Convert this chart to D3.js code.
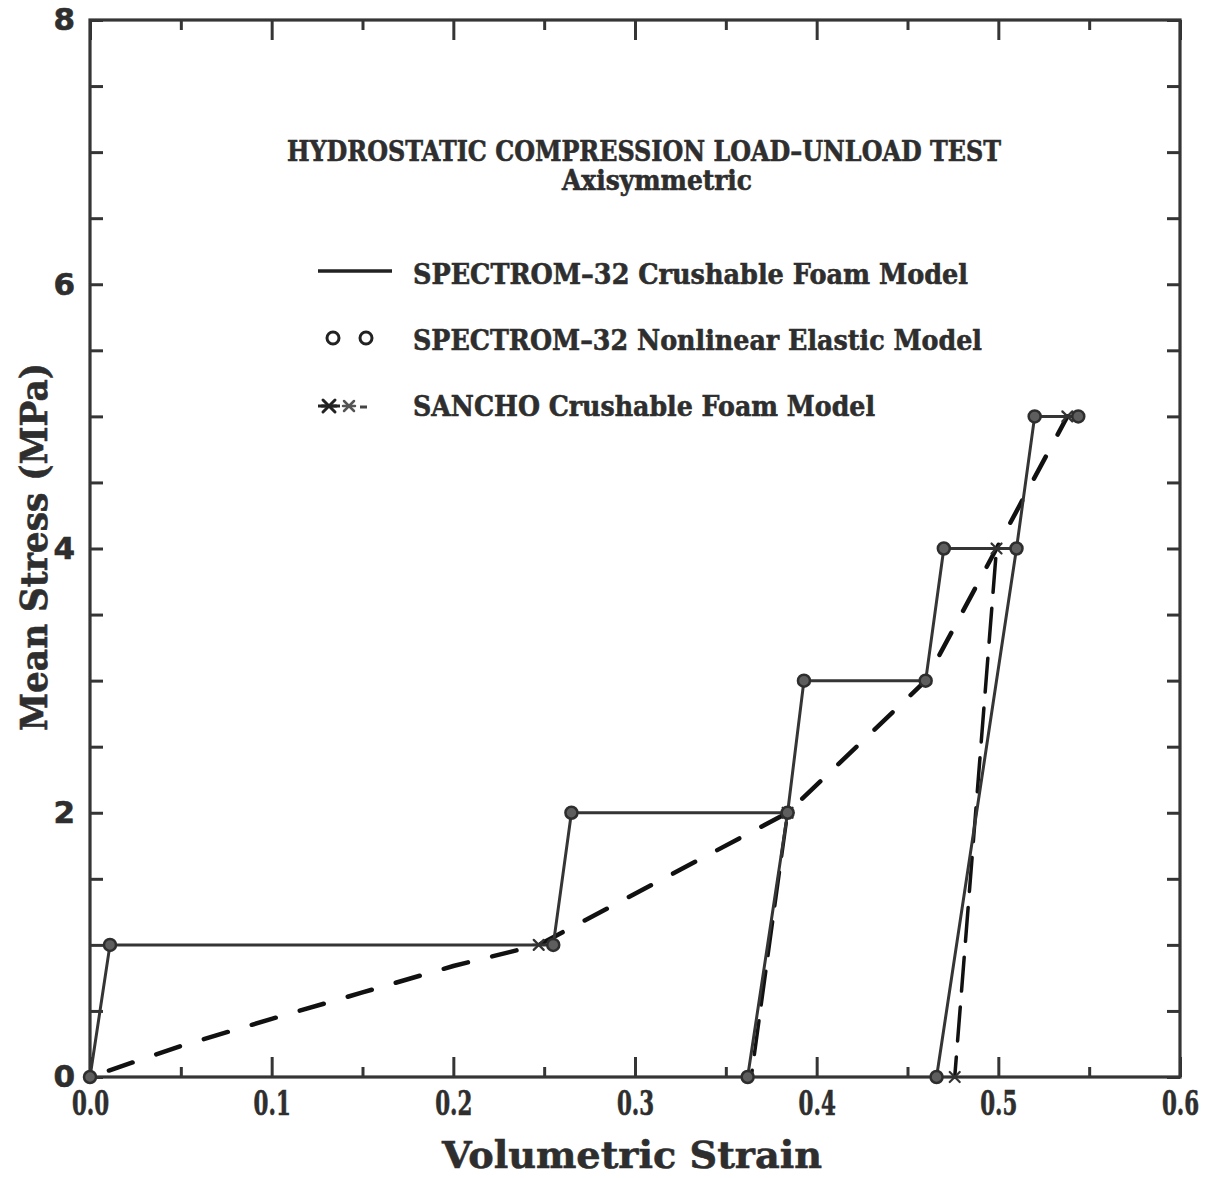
<!DOCTYPE html>
<html>
<head>
<meta charset="utf-8">
<script src="https://cdn.jsdelivr.net/npm/d3@7/dist/d3.min.js"></script>
<style>
  html, body { margin: 0; padding: 0; background: #fff; }
  svg { display: block; }
  text { font-family: "DejaVu Serif", "Liberation Serif", serif; font-weight: bold; fill: #2e2e2e;
         stroke: #2e2e2e; stroke-width: 0.6px; }
</style>
</head>
<body>
<svg id="chart" width="1210" height="1178"></svg>
<script>
// Axis ticks and labels
const strainMajor = [0, 0.1, 0.2, 0.3, 0.4, 0.5, 0.6];
const strainMajorLabels = ["0.0", "0.1", "0.2", "0.3", "0.4", "0.5", "0.6"];
const strainMinor = [0.05, 0.15, 0.25, 0.35, 0.45, 0.55];
const stressTicks = [0, 0.5, 1, 1.5, 2, 2.5, 3, 3.5, 4, 4.5, 5, 5.5, 6, 6.5, 7, 7.5, 8];
const stressLabels = [0, 2, 4, 6, 8];

// SPECTROM-32 crushable foam model: load / unload / reload path
const foamStrain = [0, 0.011, 0.255, 0.265, 0.384, 0.362, 0.384, 0.393, 0.460, 0.470, 0.510, 0.466, 0.510, 0.520, 0.544];
const foamStress = [0, 1, 1, 2, 2, 0, 2, 3, 3, 4, 4, 0, 4, 5, 5];

// SPECTROM-32 nonlinear elastic model: computed points
const elasticStrain = [0, 0.011, 0.255, 0.265, 0.384, 0.362, 0.393, 0.460, 0.470, 0.510, 0.466, 0.520, 0.544];
const elasticStress = [0, 1, 1, 2, 2, 0, 3, 3, 4, 4, 0, 5, 5];

// SANCHO crushable foam model: loading curve and the two unloading legs
const sanchoLoadStrain = [0, 0.05, 0.10, 0.15, 0.20, 0.247, 0.384, 0.460, 0.499, 0.538];
const sanchoLoadStress = [0, 0.235, 0.44, 0.64, 0.84, 1.0, 2.0, 3.0, 4.0, 5.0];
const sanchoUnloadStrain = [[0.384, 0.364], [0.499, 0.476]];
const sanchoUnloadStress = [[2.0, 0], [4.0, 0]];
const sanchoMarkStrain = [0.247, 0.384, 0.499, 0.538, 0.476];
const sanchoMarkStress = [1.0, 2.0, 4.0, 5.0, 0];

const svg = d3.select("#chart");
const ink = "#353535";

const x = d3.scaleLinear().domain([0, 0.6]).range([90, 1180]);
const y = d3.scaleLinear().domain([0, 8]).range([1077, 20]);

svg.append("rect").attr("width", 1210).attr("height", 1178).attr("fill", "#fff");

// Axes with inward ticks
function styleAxis(g) {
  g.select(".domain").remove();
  g.selectAll(".tick line").attr("stroke", ink).attr("stroke-width", 3);
}

svg.append("g").attr("transform", `translate(0,${y(0)})`)
  .call(d3.axisBottom(x).tickValues(strainMinor).tickSize(-10).tickFormat(""))
  .call(styleAxis);
const xb = svg.append("g").attr("transform", `translate(0,${y(0)})`)
  .call(d3.axisBottom(x).tickValues(strainMajor).tickSize(-20).tickPadding(15)
    .tickFormat((d, i) => strainMajorLabels[i]))
  .call(styleAxis);
// narrow, heavy strain labels
xb.selectAll(".tick text")
  .attr("font-size", 33).attr("transform", "scale(0.72,1)")
  .style("font-family", "'DejaVu Serif Condensed', 'DejaVu Serif', serif")
  .attr("fill", "#2e2e2e").attr("stroke", "#2e2e2e").attr("stroke-width", 1.1);

svg.append("g").attr("transform", `translate(0,${y(8)})`)
  .call(d3.axisTop(x).tickValues(strainMinor).tickSize(-10).tickFormat(""))
  .call(styleAxis);
svg.append("g").attr("transform", `translate(0,${y(8)})`)
  .call(d3.axisTop(x).tickValues(strainMajor).tickSize(-20).tickFormat(""))
  .call(styleAxis);

const yl = svg.append("g").attr("transform", `translate(${x(0)},0)`)
  .call(d3.axisLeft(y).tickValues(stressTicks).tickSize(-13).tickPadding(15)
    .tickFormat(d => stressLabels.includes(d) ? String(d) : ""))
  .call(styleAxis);
yl.selectAll(".tick text").attr("font-size", 31).attr("fill", "#2e2e2e")
  .attr("stroke", "#2e2e2e").attr("stroke-width", 0.8)
  .style("font-family", "'DejaVu Sans', sans-serif");

svg.append("g").attr("transform", `translate(${x(0.6)},0)`)
  .call(d3.axisRight(y).tickValues(stressTicks).tickSize(-13).tickFormat(""))
  .call(styleAxis);

// Plot frame
svg.append("rect")
  .attr("x", x(0)).attr("y", y(8))
  .attr("width", x(0.6) - x(0)).attr("height", y(0) - y(8))
  .attr("fill", "none").attr("stroke", ink).attr("stroke-width", 3.2);

// Axis titles
svg.append("text").attr("x", 632).attr("y", 1168).attr("text-anchor", "middle")
  .attr("font-size", 38).attr("textLength", 380).attr("lengthAdjust", "spacingAndGlyphs")
  .text("Volumetric Strain");
svg.append("text").attr("transform", "translate(47,547) rotate(-90)").attr("text-anchor", "middle")
  .attr("font-size", 38).attr("textLength", 368).attr("lengthAdjust", "spacingAndGlyphs")
  .text("Mean Stress (MPa)");

// Chart title
svg.append("text").attr("x", 644).attr("y", 161).attr("text-anchor", "middle")
  .attr("font-size", 27).attr("textLength", 714).attr("lengthAdjust", "spacingAndGlyphs")
  .text("HYDROSTATIC COMPRESSION LOAD\u2013UNLOAD TEST");
svg.append("text").attr("x", 657).attr("y", 190).attr("text-anchor", "middle")
  .attr("font-size", 27).attr("textLength", 190).attr("lengthAdjust", "spacingAndGlyphs")
  .text("Axisymmetric");

// Line generators
const line = d3.line().x(d => x(d[0])).y(d => y(d[1]));
const zip = (a, b) => a.map((v, i) => [v, b[i]]);

// SANCHO dashed curves
const dashStyle = g => g.attr("fill", "none").attr("stroke", "#111").attr("stroke-width", 4.5)
  .attr("stroke-linecap", "round").attr("stroke-dasharray", "25 25").attr("stroke-dashoffset", 30);
svg.append("path").datum(zip(sanchoLoadStrain, sanchoLoadStress)).attr("d", line).call(dashStyle);
sanchoUnloadStrain.forEach((s, i) => {
  svg.append("path").datum(zip(s, sanchoUnloadStress[i])).attr("d", line).call(dashStyle)
    .attr("stroke-width", 3.5).attr("stroke-dasharray", "34 16").attr("stroke-dashoffset", 40);
});

// SPECTROM-32 crushable foam solid path
svg.append("path").datum(zip(foamStrain, foamStress)).attr("d", line)
  .attr("fill", "none").attr("stroke", ink).attr("stroke-width", 3).attr("stroke-linejoin", "round");

// SANCHO asterisk markers
function asterisk(g, cx, cy, r, w, color) {
  const a = g.append("g").attr("transform", `translate(${cx},${cy})`)
    .attr("stroke", color).attr("stroke-width", w).attr("stroke-linecap", "round");
  a.append("line").attr("x1", -r).attr("y1", -r).attr("x2", r).attr("y2", r);
  a.append("line").attr("x1", -r).attr("y1", r).attr("x2", r).attr("y2", -r);
  a.append("line").attr("x1", -r * 1.2).attr("y1", 0).attr("x2", r * 1.2).attr("y2", 0);
}
const marks = svg.append("g");
sanchoMarkStrain.forEach((s, i) => asterisk(marks, x(s), y(sanchoMarkStress[i]), 5, 2.2, "#333"));

// SPECTROM-32 nonlinear elastic circles
svg.append("g").selectAll("circle")
  .data(zip(elasticStrain, elasticStress)).join("circle")
  .attr("cx", d => x(d[0])).attr("cy", d => y(d[1])).attr("r", 6)
  .attr("fill", "#5e5e5e").attr("stroke", "#2e2e2e").attr("stroke-width", 2.5);

// Legend
const legend = svg.append("g");
legend.append("line").attr("x1", 318).attr("x2", 392).attr("y1", 271).attr("y2", 271)
  .attr("stroke", "#222").attr("stroke-width", 3.5);
legend.append("text").attr("x", 413).attr("y", 284).attr("font-size", 28)
  .attr("textLength", 555).attr("lengthAdjust", "spacingAndGlyphs")
  .text("SPECTROM\u201332 Crushable Foam Model");

[333, 366].forEach(cx => legend.append("circle").attr("cx", cx).attr("cy", 338).attr("r", 6)
  .attr("fill", "none").attr("stroke", "#222").attr("stroke-width", 3));
legend.append("text").attr("x", 413).attr("y", 350).attr("font-size", 28)
  .attr("textLength", 569).attr("lengthAdjust", "spacingAndGlyphs")
  .text("SPECTROM\u201332 Nonlinear Elastic Model");

legend.append("line").attr("x1", 318).attr("x2", 340).attr("y1", 406).attr("y2", 406)
  .attr("stroke", "#222").attr("stroke-width", 3);
asterisk(legend, 329, 406, 6, 3, "#222");
asterisk(legend, 349, 406, 5, 2.5, "#555");
legend.append("line").attr("x1", 360).attr("x2", 367).attr("y1", 407).attr("y2", 407)
  .attr("stroke", "#444").attr("stroke-width", 3);
legend.append("text").attr("x", 413).attr("y", 416).attr("font-size", 28)
  .attr("textLength", 462).attr("lengthAdjust", "spacingAndGlyphs")
  .text("SANCHO Crushable Foam Model");
</script>
</body>
</html>
